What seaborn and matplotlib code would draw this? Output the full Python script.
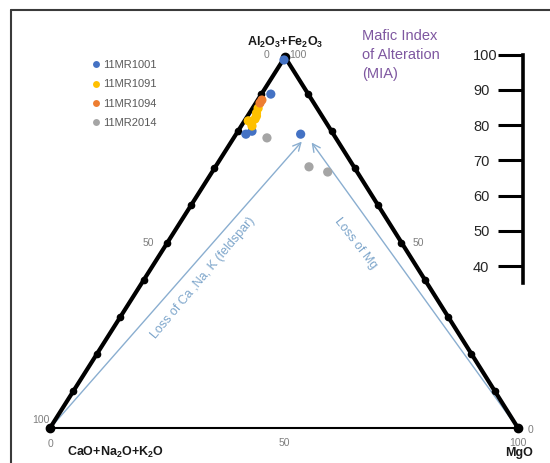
import numpy as np
import pandas as pd
import matplotlib
matplotlib.use('Agg')
import matplotlib.pyplot as plt
import seaborn as sns
from matplotlib.lines import Line2D

# samples and colours (Excel palette)
samples = ['11MR1001', '11MR1091', '11MR1094', '11MR2014']
colors = ['#4472C4', '#FFC000', '#ED7D31', '#A5A5A5']

# ternary values (%) : Al2O3+Fe2O3, CaO+Na2O+K2O, MgO
mr1001_al = [99.2, 90.0, 80.0, 79.2, 79.2]
mr1001_cnk = [0.6, 8.0, 17.0, 18.7, 7.0]
mr1001_mg = [0.2, 2.0, 3.0, 2.1, 13.8]

mr1091_al = [86.2, 84.9, 84.1, 83.3, 82.8, 82.2, 81.4]
mr1091_cnk = [12.6, 13.6, 14.0, 14.7, 16.4, 16.0, 16.3]
mr1091_mg = [1.2, 1.5, 1.9, 2.0, 0.8, 1.8, 2.3]

mr1094_al = [87.6, 88.4]
mr1094_cnk = [11.5, 10.7]
mr1094_mg = [0.9, 0.9]

mr2014_al = [78.2, 70.4, 69.0]
mr2014_cnk = [14.7, 9.6, 6.3]
mr2014_mg = [7.1, 20.0, 24.7]

edge_ticks = [10, 20, 30, 40, 50, 60, 70, 80, 90]
mia_ticks = [100, 90, 80, 70, 60, 50, 40]

# triangle geometry (CNK corner at 0,0 ; MgO corner at 100,0)
APEX_X, APEX_Y = 50.2, 79.27


def tern_xy(al, cnk, mg):
    al, cnk, mg = np.asarray(al, float), np.asarray(cnk, float), np.asarray(mg, float)
    tot = al + cnk + mg
    a, m = al / tot, mg / tot
    return 100 * m + APEX_X * a, APEX_Y * a


rows = []
for name, al, cnk, mg in [(samples[0], mr1001_al, mr1001_cnk, mr1001_mg),
                          (samples[1], mr1091_al, mr1091_cnk, mr1091_mg),
                          (samples[2], mr1094_al, mr1094_cnk, mr1094_mg),
                          (samples[3], mr2014_al, mr2014_cnk, mr2014_mg)]:
    x, y = tern_xy(al, cnk, mg)
    for xi, yi in zip(x, y):
        rows.append({'sample': name, 'x': xi, 'y': yi})
df = pd.DataFrame(rows)

sns.set_theme(style='white')
plt.rcParams['font.family'] = ['Liberation Sans', 'DejaVu Sans']
plt.rcParams['mathtext.fontset'] = 'custom'
plt.rcParams['mathtext.rm'] = 'Liberation Sans'
plt.rcParams['mathtext.bf'] = 'Liberation Sans:bold'

fig = plt.figure(figsize=(5.5, 4.63), dpi=100)
fig.patch.set_facecolor('white')
ax = fig.add_axes([50 / 550, (463 - 428) / 463, 468 / 550, 371 / 463])
ax.set_xlim(0, 100)
ax.set_ylim(0, APEX_Y)
ax.axis('off')

# outer frame
fig.add_artist(Line2D([11 / 550, 1], [1 - 10 / 463, 1 - 10 / 463], transform=fig.transFigure,
                      color='#3a3a3a', lw=1.5))
fig.add_artist(Line2D([11 / 550, 11 / 550], [0, 1 - 10 / 463], transform=fig.transFigure,
                      color='#3a3a3a', lw=1.5))

# triangle edges
cx, cy = tern_xy([0, 100, 0], [100, 0, 0], [0, 0, 100])
ax.plot([cx[0], cx[1], cx[2]], [cy[0], cy[1], cy[2]], color='black', lw=3,
        solid_joinstyle='round', clip_on=False, zorder=2)
ax.plot([cx[0], cx[2]], [cy[0], cy[2]], color='black', lw=1.5, clip_on=False, zorder=2)
ax.plot(cx, cy, 'o', color='black', ms=6, clip_on=False, zorder=3)

t = np.array(edge_ticks)
lx, ly = tern_xy(t, 100 - t, 0 * t)
rx, ry = tern_xy(t, 0 * t, 100 - t)
ax.plot(lx, ly, 'o', color='black', ms=4.5, clip_on=False, zorder=3)
ax.plot(rx, ry, 'o', color='black', ms=4.5, clip_on=False, zorder=3)

# arrows
arrow_col = '#8aaed0'
ax.annotate('', xy=(53.8, 61.2), xytext=(0.4, 0.4),
            arrowprops=dict(arrowstyle='->', color=arrow_col, lw=1, mutation_scale=14,
                            shrinkA=0, shrinkB=0), zorder=1)
ax.annotate('', xy=(55.9, 61.0), xytext=(99.6, 0.4),
            arrowprops=dict(arrowstyle='->', color=arrow_col, lw=1, mutation_scale=14,
                            shrinkA=0, shrinkB=0), zorder=1)
ax.text(32.7, 32.0, 'Loss of Ca ,Na, K (feldspar)', rotation=50, rotation_mode='anchor',
        ha='center', va='center', fontsize=9, color='#7ea6cb')
ax.text(65.4, 39.5, 'Loss of Mg', rotation=-52, rotation_mode='anchor',
        ha='center', va='center', fontsize=9, color='#7ea6cb')

# data points
sns.scatterplot(data=df, x='x', y='y', hue='sample', hue_order=samples,
                palette=dict(zip(samples, colors)), s=44, edgecolor='none',
                ax=ax, clip_on=False, zorder=4)

leg = ax.get_legend()
handles = leg.legend_handles
labels = [tx.get_text() for tx in leg.texts]
ax.legend(handles, labels, loc='upper left', bbox_to_anchor=(93 / 550, 1 - 60 / 463),
          bbox_transform=fig.transFigure, frameon=False, fontsize=8, handlelength=0.6,
          handletextpad=0.3, labelspacing=0.85, borderpad=0, borderaxespad=0,
          markerscale=0.75, labelcolor='#595959')

# corner / edge labels
grey = '#7f7f7f'
def lab(txt, xy, dx, dy, ha='center', **kw):
    ax.annotate(txt, xy=xy, xytext=(dx * 0.72, -dy * 0.72), textcoords='offset points',
                ha=ha, va='center', fontsize=7.5, color=grey, **kw)

apex = (cx[1], cy[1])
bl = (cx[0], cy[0])
br = (cx[2], cy[2])
mid_l = tern_xy(50, 50, 0)
mid_r = tern_xy(50, 0, 50)
mid_b = tern_xy(0, 50, 50)
lab('0', apex, -18, -2)
lab('100', apex, 4, -2, ha='left')
lab('50', mid_l, -19, 0)
lab('100', bl, -9, -8)
lab('50', mid_r, 17, 0)
lab('0', br, 13, 2)
lab('0', bl, 0, 16)
lab('50', mid_b, 0, 15)
lab('100', br, 0, 15)

ax.annotate(r'Al$_\mathbf{2}$O$_\mathbf{3}$+Fe$_\mathbf{2}$O$_\mathbf{3}$', xy=apex,
            xytext=(0, 15 * 0.72), textcoords='offset points', ha='center', va='center',
            fontsize=9, fontweight='bold', color='#1a1a1a')
ax.annotate(r'CaO+Na$_\mathbf{2}$O+K$_\mathbf{2}$O', xy=bl, xytext=(65 * 0.72, -24 * 0.72),
            textcoords='offset points', ha='center', va='center',
            fontsize=9, fontweight='bold', color='#1a1a1a')
ax.annotate('MgO', xy=br, xytext=(1 * 0.72, -25 * 0.72), textcoords='offset points',
            ha='center', va='center', fontsize=9, fontweight='bold', color='#1a1a1a')

# MIA scale
fig.text(362 / 550, 1 - 29 / 463, 'Mafic Index\nof Alteration\n(MIA)', ha='left', va='top',
         fontsize=10.5, color='#7e57a0', linespacing=1.45)

ax_mia = fig.add_axes([523 / 550, (463 - 283) / 463, 0.02, (283 - 54.5) / 463])
ax_mia.set_ylim(35.25, 100)
ax_mia.set_xlim(0, 1)
ax_mia.patch.set_alpha(0)
for s in ['top', 'right', 'bottom']:
    ax_mia.spines[s].set_visible(False)
ax_mia.spines['left'].set_linewidth(2.6)
ax_mia.spines['left'].set_color('black')
ax_mia.set_xticks([])
ax_mia.set_yticks(mia_ticks)
ax_mia.tick_params(axis='y', direction='out', length=18, width=2.2, pad=18,
                   labelsize=10.5, color='black', labelcolor='#262626', left=True)
for lbl in ax_mia.get_yticklabels():
    lbl.set_ha('left')

fig.savefig('out.png', dpi=100)
